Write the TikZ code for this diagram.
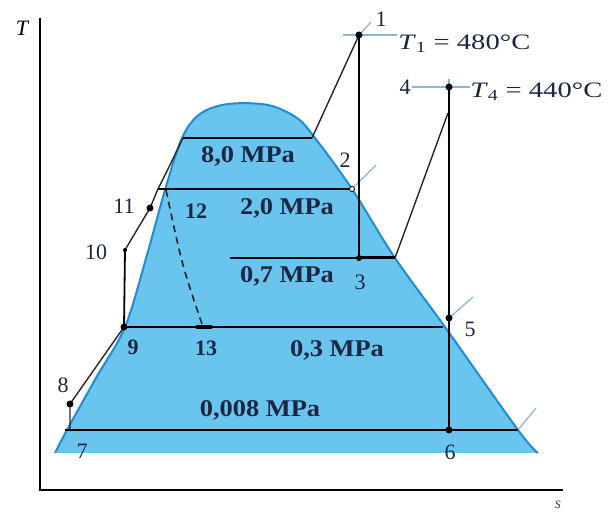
\documentclass[tikz,border=0pt]{standalone}
\usepackage{fontspec}
\setmainfont{Liberation Serif}
\definecolor{domeblue}{RGB}{105,196,238}
\definecolor{domeline}{RGB}{30,140,215}
\definecolor{tickblue}{RGB}{140,180,225}
\definecolor{ink}{RGB}{28,37,65}
\begin{document}
\begin{tikzpicture}[x=1pt,y=-1pt,
  pline/.style={draw=black,line width=2.2pt},
  thinp/.style={draw=black,line width=1.1pt},
  proc/.style={draw=black!85,line width=1.4pt},
  vert/.style={draw=black,line width=2.6pt},
  tickm/.style={draw=tickblue,line width=1.3pt},
  dotm/.style={fill=black},
  mpa/.style={font=\fontsize{24}{24}\selectfont\bfseries,text=ink,xscale=1.1,inner sep=0pt},
  num/.style={font=\fontsize{22}{22}\selectfont,text=ink,inner sep=0pt},
  numb/.style={font=\fontsize{22}{22}\selectfont\bfseries,text=ink,inner sep=0pt},
  tlab/.style={font=\fontsize{22}{22}\selectfont,text=ink,xscale=1.3,inner sep=0pt,anchor=west},
  axis/.style={draw=black,line width=1.5pt}]
\useasboundingbox (0,0) rectangle (614,513);
% dome
\fill[domeblue] plot[smooth,tension=0.55] coordinates {(55,453) (67,430) (96,378) (125,327) (147,255) (165,190) (182,138) (200,114) (228,104) (268,105) (297,118) (315,138) (352,189) (395,258) (445,327) (518,430) (538,453)} -- cycle;
\draw[domeline,line width=2pt] plot[smooth,tension=0.55] coordinates {(55,453) (67,430) (96,378) (125,327) (147,255) (165,190) (182,138) (200,114) (228,104) (268,105) (297,118) (315,138) (352,189) (395,258) (445,327) (518,430) (538,453)};
% axes
\coordinate (ax0) at (40,490);
\coordinate (axT) at (40,18);
\coordinate (axS) at (563,490);
\draw[axis] (axT) -- (ax0) -- (axS);
\node[font=\fontsize{22}{22}\selectfont\itshape,inner sep=0pt] (lT) at (22,28) {T};
\node[font=\fontsize{16}{16}\selectfont\itshape,inner sep=0pt,text=black!70] (lS) at (558,505) {s};
% state points
\coordinate (p1) at (359,35);
\coordinate (p2) at (359,189);
\coordinate (p3) at (359,258);
\coordinate (p3b) at (395,258);
\coordinate (c34) at (448,113);
\coordinate (p4) at (449,87);
\coordinate (p5) at (449,318);
\coordinate (p6) at (449,430);
\coordinate (p7) at (70,430);
\coordinate (p8) at (70,404);
\coordinate (p9) at (124,327);
\coordinate (p10) at (125,250);
\coordinate (p11) at (150,208);
\coordinate (p12) at (166,190);
\coordinate (p13) at (203,327);
\coordinate (s8L) at (183,138);
\coordinate (s8R) at (312,138);
\coordinate (s2L) at (158,189);
\coordinate (s2V) at (352,189);
\coordinate (s3L) at (230,258);
\coordinate (s9R) at (443,327);
\coordinate (s7L) at (65,430);
\coordinate (s7R) at (518,430);
% isotherm ticks
\draw[tickm] (343,35) -- (397,35);
\draw[tickm] (361,33) -- (371,22);
\draw[tickm] (412,87) -- (470,87);
\draw[tickm] (449,79) -- (449,95);
\draw[tickm] (s2V) -- (376,165);
\draw[tickm] (p5) -- (473,297);
\draw[tickm] (s7R) -- (536,408);
% pressure lines
\draw[pline,line width=2.8pt] (s8L) -- (s8R);
\draw[pline] (s2L) -- (s2V);
\draw[thinp] (s3L) -- (p3);
\draw[pline,line width=3pt] (p3) -- (p3b);
\draw[pline] (p9) -- (s9R);
\draw[pline] (s7L) -- (s7R);
% cycle processes
\draw[proc] (s8R) -- (p1);
\draw[vert] (p1) -- (p3);
\draw[proc] (p3b) -- (c34);
\draw[vert] (p4) -- (p6);
\draw[proc] (p7) -- (p8) -- (p9);
\draw[pline,line width=1.8pt] (p9) -- (p10);
\draw[proc] (p10) -- (p11) -- (s2L) .. controls (170,165) .. (s8L);
\draw[proc,dashed,dash pattern=on 7pt off 5pt,line width=1.6pt] (p12) .. controls (182,265) .. (p13);
% dots
\foreach \p in {p1,p4,p5,p6,p8,p9,p11}{\fill[dotm] (\p) circle (3.5);}
\fill[dotm] (p3) circle (3);
\fill[dotm] (p10) circle (2);
\draw[black,fill=white,line width=0.8pt] (s2V) circle (2.5);
\fill[black] (196,325) rectangle (212,329.5);
% labels
\node[num] (l1) at (381,19) {1};
\node[tlab] (lT1) at (398,44) {\textit{T}\textsubscript{1} = 480°C};
\node[num] (l4) at (405,87) {4};
\node[tlab] (lT4) at (470,92) {\textit{T}\textsubscript{4} = 440°C};
\node[num] (l2) at (345,160) {2};
\node[num] (l3) at (360,282) {3};
\node[num] (l5) at (470,329) {5};
\node[num] (l6) at (450,452) {6};
\node[num] (l7) at (82,451) {7};
\node[num] (l8) at (63,385) {8};
\node[numb] (l9) at (133,347) {9};
\node[num] (l10) at (96,252) {10};
\node[num] (l11) at (124,206) {11};
\node[numb] (l12) at (196,211) {12};
\node[numb] (l13) at (206,348) {13};
\node[mpa] (m8) at (248,156) {8,0 MPa};
\node[mpa] (m2) at (287,208) {2,0 MPa};
\node[mpa] (m07) at (287,276) {0,7 MPa};
\node[mpa] (m03) at (337,350) {0,3 MPa};
\node[mpa] (m008) at (260,410) {0,008 MPa};
\end{tikzpicture}
\end{document}
